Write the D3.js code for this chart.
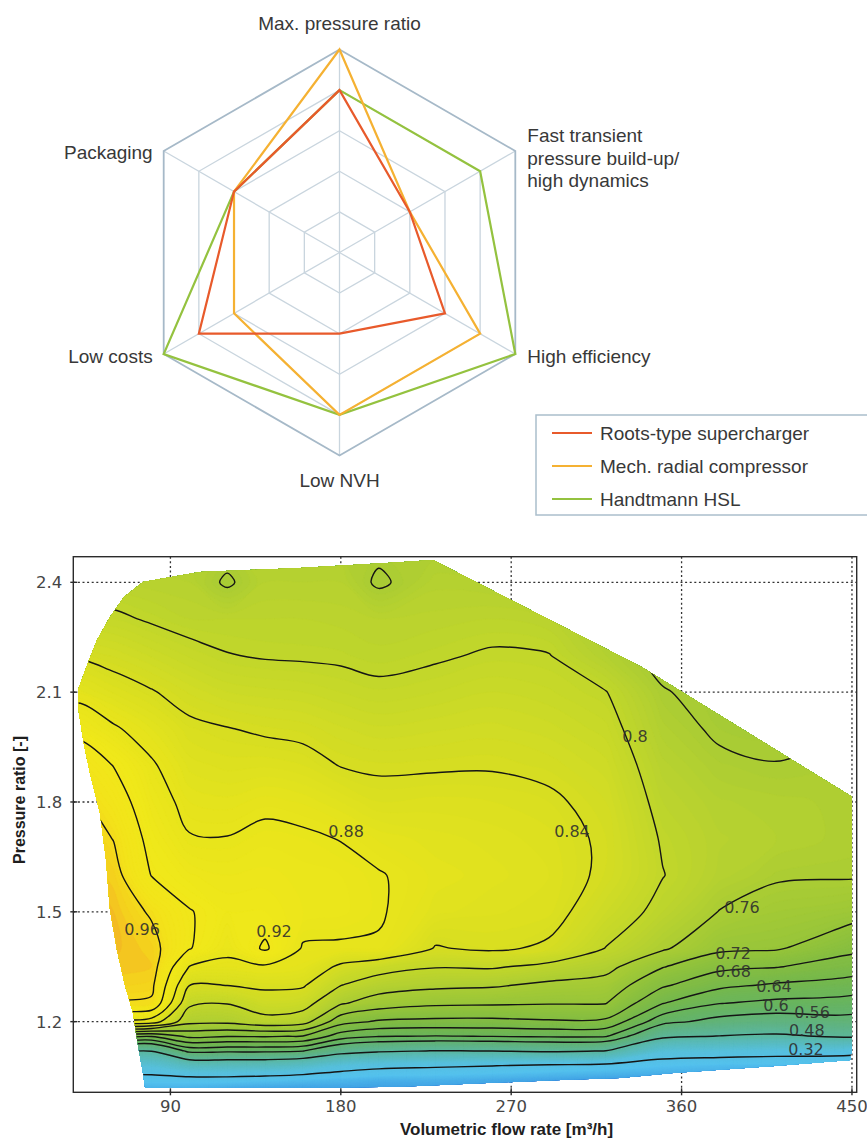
<!DOCTYPE html>
<html>
<head>
<meta charset="utf-8">
<script src="https://cdn.jsdelivr.net/npm/d3@7"></script>
<style>
  body { margin: 0; background: #fff; }
  svg { display: block; }
</style>
</head>
<body>
<svg id="chart" width="867" height="1138"></svg>
<script>
// ---------------- Radar chart data ----------------
const criteria = ["Max. pressure ratio", "Fast transient pressure build-up/high dynamics",
                  "High efficiency", "Low NVH", "Low costs", "Packaging"];
const criteriaLabelLines = [
  ["Max. pressure ratio"],
  ["Fast transient", "pressure build-up/", "high dynamics"],
  ["High efficiency"],
  ["Low NVH"],
  ["Low costs"],
  ["Packaging"]
];
const scoreLevels = [1, 2, 3, 4, 5];
const seriesNames = ["Roots-type supercharger", "Mech. radial compressor", "Handtmann HSL"];
const rootsScores  = [4, 2, 3, 2, 4, 3];
const radialScores = [5, 2, 4, 4, 3, 3];
const hslScores    = [4, 4, 5, 4, 5, 3];
const seriesColors = ["#e85a2b", "#f5b132", "#94c23f"];

// ---------------- Compressor map data ----------------
// efficiency sampled on a grid: columns = volumetric flow [m3/h], rows = pressure ratio (top to bottom)
const flowCols = [40, 60, 80, 100, 120, 140, 160, 180, 200, 230, 260, 290, 320, 350, 380, 410, 450];
const pressureRows = [2.5, 2.4, 2.3, 2.2, 2.1, 2.0, 1.9, 1.8, 1.7, 1.6, 1.5, 1.4, 1.35, 1.3, 1.25, 1.2, 1.16, 1.12, 1.08, 1.04, 1.0];
const efficiency = [
  [.775,.772,.772,.770,.775,.775,.770,.770,.768,.765,.760,.755,.750,.735,.720,.715,.720],
  [.785,.785,.782,.780,.755,.780,.780,.780,.755,.778,.775,.770,.755,.740,.730,.722,.730],
  [.805,.805,.797,.790,.790,.790,.790,.788,.785,.787,.790,.785,.765,.745,.738,.730,.740],
  [.835,.829,.819,.809,.801,.798,.797,.796,.792,.797,.803,.801,.775,.750,.744,.738,.750],
  [.868,.854,.842,.829,.820,.817,.815,.810,.806,.810,.815,.811,.801,.762,.750,.745,.755],
  [.908,.884,.865,.846,.841,.836,.833,.826,.821,.824,.827,.822,.812,.772,.755,.752,.759],
  [.948,.919,.884,.858,.853,.854,.850,.839,.836,.837,.838,.833,.822,.782,.766,.761,.765],
  [.970,.940,.896,.870,.867,.873,.869,.860,.850,.852,.850,.845,.830,.790,.776,.772,.768],
  [.980,.959,.908,.882,.881,.888,.885,.879,.869,.862,.858,.852,.835,.797,.781,.775,.767],
  [.985,.972,.919,.901,.895,.897,.893,.890,.882,.868,.862,.855,.834,.801,.778,.764,.763],
  [.985,.980,.956,.922,.905,.905,.895,.892,.883,.862,.856,.852,.820,.790,.759,.745,.735],
  [.985,.982,.972,.922,.890,.925,.877,.876,.877,.838,.845,.835,.799,.765,.728,.724,.689],
  [.980,.978,.975,.879,.870,.875,.868,.833,.816,.802,.804,.790,.772,.722,.690,.682,.661],
  [.975,.972,.968,.841,.841,.847,.844,.801,.780,.769,.765,.752,.745,.686,.650,.635,.622],
  [.962,.958,.955,.807,.801,.821,.815,.764,.740,.727,.725,.722,.721,.641,.601,.590,.583],
  [.875,.870,.862,.772,.770,.787,.777,.695,.675,.670,.670,.675,.672,.573,.545,.535,.545],
  [.660,.660,.642,.690,.682,.683,.678,.620,.602,.598,.601,.605,.603,.495,.478,.470,.490],
  [.490,.490,.482,.573,.570,.570,.562,.510,.490,.478,.481,.490,.479,.370,.360,.350,.337],
  [.370,.370,.370,.418,.420,.420,.400,.360,.340,.330,.322,.310,.300,.280,.270,.270,.280],
  [.290,.290,.290,.290,.290,.280,.270,.260,.250,.250,.240,.230,.220,.220,.220,.220,.220],
  [.220,.220,.220,.220,.200,.190,.190,.200,.200,.200,.200,.200,.200,.200,.200,.200,.200]
];
const contourLevels = [0.32, 0.48, 0.56, 0.6, 0.64, 0.68, 0.72, 0.76, 0.8, 0.84, 0.88, 0.92, 0.96];

// operating envelope of the map (flow, pressure ratio)
const envelopeFlow = [75.5, 65.5, 58.1, 51.2, 46.5, 41.2, 41.7, 44.4, 47.5, 52.8, 56.0, 58.1, 61.8, 66.0, 70.2, 72.4, 75.5, 76.6,
                      158.5, 211.3, 260.4, 299.5, 327.5, 355.5, 401.4, 449.0, 450, 450, 339.1, 228.7, 211.3, 158.5, 105.6];
const envelopePressure = [2.401, 2.360, 2.305, 2.242, 2.180, 2.106, 2.043, 1.956, 1.880, 1.770, 1.642, 1.505, 1.396, 1.300, 1.224, 1.150, 1.060, 1.019,
                          1.019, 1.022, 1.033, 1.041, 1.046, 1.060, 1.076, 1.095, 1.128, 1.814, 2.168, 2.461, 2.455, 2.439, 2.428];

// contour label anchors (flow, pressure ratio)
const labelLevels   = [0.88, 0.84, 0.8, 0.96, 0.92, 0.76, 0.72, 0.68, 0.64, 0.6, 0.56, 0.48, 0.32];
const labelFlow     = [182.8, 302.1, 335.4, 75.0, 144.7, 391.9, 387.2, 387.2, 408.8, 409.9, 428.9, 426.2, 425.7];
const labelPressure = [1.721, 1.721, 1.981, 1.453, 1.448, 1.514, 1.388, 1.338, 1.297, 1.246, 1.226, 1.176, 1.125];

const flowTicks = [90, 180, 270, 360, 450];
const pressureTicks = [1.2, 1.5, 1.8, 2.1, 2.4];

const svg = d3.select("#chart");

// ================= Radar chart =================
const cx = 339.5, cy = 252.5, R = 203;
const rScale = d3.scaleLinear().domain([0, 5]).range([0, R]);
const ang = i => i * Math.PI / 3;
const radarPoint = (i, v) => [cx + rScale(v) * Math.sin(ang(i)), cy - rScale(v) * Math.cos(ang(i))];
const closedLine = d3.line().curve(d3.curveLinearClosed);

const radar = svg.append("g");
criteria.forEach((c, i) => {
  radar.append("line")
    .attr("x1", cx).attr("y1", cy)
    .attr("x2", radarPoint(i, 5)[0]).attr("y2", radarPoint(i, 5)[1])
    .attr("stroke", "#c9d5de").attr("stroke-width", 1.3);
});
scoreLevels.forEach(lv => {
  radar.append("path")
    .attr("d", closedLine(criteria.map((c, i) => radarPoint(i, lv))))
    .attr("fill", "none")
    .attr("stroke", lv === 5 ? "#a6b9c8" : "#c9d5de")
    .attr("stroke-width", lv === 5 ? 1.8 : 1.3);
});

const seriesScores = [rootsScores, radialScores, hslScores];
[2, 1, 0].forEach(k => {
  radar.append("path")
    .attr("d", closedLine(seriesScores[k].map((v, i) => radarPoint(i, v))))
    .attr("fill", "none")
    .attr("stroke", seriesColors[k])
    .attr("stroke-width", 2.2)
    .attr("stroke-linejoin", "miter");
});

// axis captions around the outer ring
const labelFont = "'Liberation Sans', Arial, sans-serif";
const captionPlacement = [
  { dx: 0,   dy: -20, anchor: "middle" },
  { dx: 12,  dy: -9,  anchor: "start" },
  { dx: 12,  dy: 9,   anchor: "start" },
  { dx: 0,   dy: 31,  anchor: "middle" },
  { dx: -11, dy: 9,   anchor: "end" },
  { dx: -11, dy: 8,   anchor: "end" }
];
criteriaLabelLines.forEach((lines, i) => {
  const [vx, vy] = radarPoint(i, 5);
  const p = captionPlacement[i];
  const t = radar.append("text")
    .attr("x", vx + p.dx).attr("y", vy + p.dy)
    .attr("text-anchor", p.anchor)
    .attr("font-family", labelFont).attr("font-size", 19)
    .attr("fill", "#383838");
  lines.forEach((ln, j) => {
    t.append("tspan").attr("x", vx + p.dx).attr("dy", j === 0 ? 0 : 22.5).text(ln);
  });
});

// legend
const legend = svg.append("g").attr("transform", "translate(536,415)");
legend.append("rect").attr("x", 0).attr("y", 0).attr("width", 360).attr("height", 100)
  .attr("fill", "#fff").attr("stroke", "#abbecc").attr("stroke-width", 1.5);
seriesNames.forEach((name, k) => {
  const yy = 18 + k * 33;
  legend.append("line").attr("x1", 16).attr("x2", 56).attr("y1", yy).attr("y2", yy)
    .attr("stroke", seriesColors[k]).attr("stroke-width", 2.2);
  legend.append("text").attr("x", 64).attr("y", yy + 7)
    .attr("font-family", labelFont).attr("font-size", 19).attr("fill", "#383838").text(name);
});

// ================= Compressor map =================
const x = d3.scaleLinear().domain([38.7, 452.5]).range([73.3, 856.7]);
const y = d3.scaleLinear().domain([1.007, 2.47]).range([1092.3, 556.7]);
const map = svg.append("g");

// dotted grid
const dotted = map.append("g").attr("stroke", "#333").attr("stroke-width", 1.3).attr("stroke-dasharray", "2,2.6");
flowTicks.forEach(v => dotted.append("line").attr("x1", x(v)).attr("x2", x(v)).attr("y1", y.range()[0]).attr("y2", y.range()[1]));
pressureTicks.forEach(v => dotted.append("line").attr("x1", x.range()[0]).attr("x2", x.range()[1]).attr("y1", y(v)).attr("y2", y(v)));

// envelope clip
const envelopePts = envelopeFlow.map((f, i) => [x(f), y(envelopePressure[i])]);
svg.append("defs").append("clipPath").attr("id", "envelope")
  .append("path").attr("d", closedLine(envelopePts));

// grid index -> data -> pixel
const nCols = flowCols.length, nRows = pressureRows.length;
const idxFlow = d3.scaleLinear().domain(d3.range(nCols)).range(flowCols);
const idxPress = d3.scaleLinear().domain(d3.range(nRows)).range(pressureRows);
const toPixel = ([gx, gy]) => [x(idxFlow(gx - 0.5)), y(idxPress(gy - 0.5))];
const smoothRing = d3.line().curve(d3.curveCatmullRomClosed.alpha(0.5));
function geometryPath(geom) {
  let d = "";
  geom.coordinates.forEach(poly => poly.forEach(ring => {
    let pts = ring.map(toPixel);
    const a = pts[0], b = pts[pts.length - 1];
    if (Math.abs(a[0] - b[0]) < 1e-6 && Math.abs(a[1] - b[1]) < 1e-6) pts = pts.slice(0, -1);
    pts = pts.filter((p, i) => i === 0 || Math.hypot(p[0] - pts[i - 1][0], p[1] - pts[i - 1][1]) > 0.05);
    if (pts.length > 2) d += smoothRing(pts);
  }));
  return d;
}

const flatValues = efficiency.flat();
const contourGen = d3.contours().size([nCols, nRows]);

const color = d3.scaleLinear()
  .domain([0.17, 0.22, 0.28, 0.36, 0.44, 0.52, 0.58, 0.64, 0.70, 0.75, 0.79, 0.83, 0.87, 0.91, 0.95, 0.972, 0.985, 1.0])
  .range(["#2a64cf", "#3f9fe4", "#55c2ee", "#58c0dc", "#5abbb6", "#5fb48a", "#66b463", "#75b84c", "#8cc03d",
          "#a5ca35", "#bcd42d", "#d2dc24", "#e5e31c", "#f0e81a", "#f3e31a", "#f4d21d", "#f3b625", "#f0a02e"])
  .clamp(true);

const mapBody = map.append("g").attr("clip-path", "url(#envelope)");
const fillSteps = d3.range(0.15, 1.0, 0.005);
contourGen.thresholds(fillSteps)(flatValues).forEach(c => {
  if (!c.coordinates.length) return;
  mapBody.append("path")
    .attr("d", geometryPath(c))
    .attr("fill", color(c.value + 0.0025))
    .attr("fill-rule", "evenodd")
    .attr("stroke", color(c.value + 0.0025)).attr("stroke-width", 0.4);
});
contourGen.thresholds(contourLevels)(flatValues).forEach(c => {
  if (!c.coordinates.length) return;
  mapBody.append("path")
    .attr("d", geometryPath(c))
    .attr("fill", "none")
    .attr("stroke", "#151515")
    .attr("stroke-width", 1.4);
});

// contour labels
const numFont = "'DejaVu Sans', Verdana, sans-serif";
labelLevels.forEach((lv, i) => {
  map.append("text")
    .attr("x", x(labelFlow[i])).attr("y", y(labelPressure[i]) + 6)
    .attr("text-anchor", "middle")
    .attr("font-family", numFont).attr("font-size", 16)
    .attr("fill", "#2e2e2e").attr("fill-opacity", 0.9)
    .text(String(lv));
});

// frame, ticks and tick labels
const [x0, x1] = x.range(), [yb, yt] = y.range();
map.append("rect").attr("x", x0).attr("y", yt).attr("width", x1 - x0).attr("height", yb - yt)
  .attr("fill", "none").attr("stroke", "#2b2b2b").attr("stroke-width", 1.4);
pressureTicks.forEach(v => {
  map.append("line").attr("x1", x0 - 3).attr("x2", x0 + 4).attr("y1", y(v)).attr("y2", y(v))
    .attr("stroke", "#2b2b2b").attr("stroke-width", 1.4);
  map.append("text").attr("x", x0 - 11).attr("y", y(v) + 6)
    .attr("text-anchor", "end").attr("font-family", numFont).attr("font-size", 16.5)
    .attr("fill", "#454545").text(d3.format(".1f")(v));
});
flowTicks.forEach(v => {
  map.append("line").attr("x1", x(v)).attr("x2", x(v)).attr("y1", yb + 3).attr("y2", yb - 4)
    .attr("stroke", "#2b2b2b").attr("stroke-width", 1.4);
  map.append("text").attr("x", x(v)).attr("y", yb + 20)
    .attr("text-anchor", "middle").attr("font-family", numFont).attr("font-size", 16.5)
    .attr("fill", "#454545").text(v);
});

// axis titles
map.append("text").attr("x", 506.5).attr("y", 1135)
  .attr("text-anchor", "middle").attr("font-family", labelFont).attr("font-weight", "bold")
  .attr("font-size", 17).attr("fill", "#1e1e1e").text("Volumetric flow rate [m\u00B3/h]");
map.append("text").attr("transform", "translate(25,800) rotate(-90)")
  .attr("text-anchor", "middle").attr("font-family", labelFont).attr("font-weight", "bold")
  .attr("font-size", 16).attr("fill", "#1e1e1e").text("Pressure ratio [-]");
</script>
</body>
</html>
